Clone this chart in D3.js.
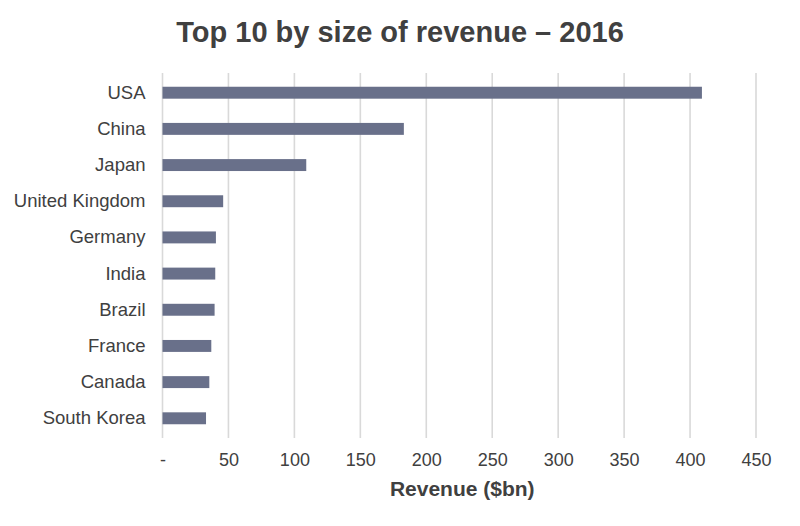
<!DOCTYPE html>
<html>
<head>
<meta charset="utf-8">
<script src="https://cdn.jsdelivr.net/npm/d3@7"></script>
<style>
  body { margin: 0; background: #fff; }
  text { font-family: "Liberation Sans", Arial, sans-serif; fill: #404040; }
</style>
</head>
<body>
<div id="chart"></div>
<script>
const countries = ["USA", "China", "Japan", "United Kingdom", "Germany", "India", "Brazil", "France", "Canada", "South Korea"];
const revenue = [409, 183, 109, 46, 40.5, 40, 39.5, 37, 35.5, 33];
const xTicks = [0, 50, 100, 150, 200, 250, 300, 350, 400, 450];

const MARGIN = { LEFT: 162.5, RIGHT: 44, TOP: 73, BOTTOM: 88 };
const WIDTH = 800 - MARGIN.LEFT - MARGIN.RIGHT;
const HEIGHT = 526 - MARGIN.TOP - MARGIN.BOTTOM;

const data = countries.map((c, i) => ({ country: c, value: revenue[i] }));

const svg = d3.select("#chart").append("svg")
  .attr("width", 800)
  .attr("height", 526);

svg.append("text")
  .attr("x", 400)
  .attr("y", 42)
  .attr("text-anchor", "middle")
  .attr("font-size", "29px")
  .attr("font-weight", "bold")
  .text("Top 10 by size of revenue \u2013 2016");

const g = svg.append("g")
  .attr("transform", `translate(${MARGIN.LEFT}, ${MARGIN.TOP})`);

const x = d3.scaleLinear().domain([0, 450]).range([0, WIDTH]);
const y = d3.scaleBand().domain(countries).range([0, HEIGHT])
  .paddingInner(0.67)
  .paddingOuter(0.38);

// gridlines
g.selectAll("line.grid")
  .data(xTicks)
  .enter()
  .append("line")
  .attr("class", "grid")
  .attr("x1", (d) => x(d))
  .attr("x2", (d) => x(d))
  .attr("y1", 0)
  .attr("y2", HEIGHT)
  .attr("stroke", "#d9d9d9")
  .attr("stroke-width", 1.6);

// bars
g.selectAll("rect")
  .data(data)
  .enter()
  .append("rect")
  .attr("x", x(0))
  .attr("y", (d) => y(d.country))
  .attr("width", (d) => x(d.value) - x(0))
  .attr("height", y.bandwidth())
  .attr("fill", "#69708a");

// x axis
const xAxis = g.append("g")
  .attr("transform", `translate(0, ${HEIGHT})`)
  .call(d3.axisBottom(x).tickValues(xTicks).tickSize(0).tickPadding(15)
    .tickFormat((d) => (d === 0 ? "-" : d)));
xAxis.select(".domain").remove();
xAxis.selectAll("text")
  .attr("font-size", "18px")
  .attr("font-family", null)
  .attr("fill", "#404040");

// y axis
const yAxis = g.append("g")
  .call(d3.axisLeft(y).tickSize(0).tickPadding(17));
yAxis.select(".domain").remove();
yAxis.selectAll("text")
  .attr("font-size", "18.5px")
  .attr("font-family", null)
  .attr("fill", "#404040");

// x label
g.append("text")
  .attr("x", WIDTH / 2 + 3)
  .attr("y", HEIGHT + 58)
  .attr("text-anchor", "middle")
  .attr("font-size", "21px")
  .attr("font-weight", "bold")
  .text("Revenue ($bn)");
</script>
</body>
</html>
